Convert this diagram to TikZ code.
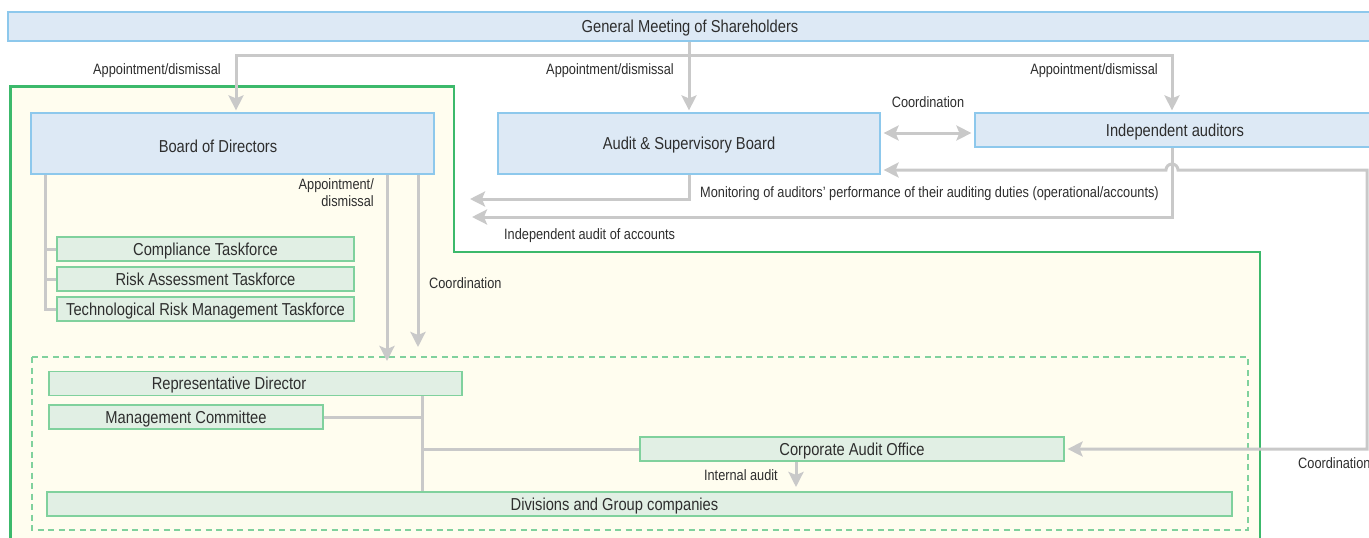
\documentclass[tikz,border=0pt]{standalone}
\usepackage{fontspec}
\setmainfont{Liberation Sans}[FakeStretch=0.85]
\usetikzlibrary{arrows.meta}
\usepackage{xcolor}

\definecolor{fillblue}{HTML}{DDE9F5}
\definecolor{lineblue}{HTML}{8DC8EC}
\definecolor{fillgreen}{HTML}{E1EFE4}
\definecolor{linegreen}{HTML}{80D19D}
\definecolor{framegreen}{HTML}{3CB96B}
\definecolor{bgyellow}{HTML}{FFFDEF}
\definecolor{conngray}{HTML}{C9C9C9}
\definecolor{txtgray}{HTML}{2E2E2E}

\newcommand{\bigtxt}{\fontsize{17.3}{20}\selectfont}
\newcommand{\smalltxt}{\fontsize{15}{17}\selectfont}

\tikzset{
    bluebox/.style={draw=lineblue, fill=fillblue, line width=1.2pt, inner sep=0pt, font=\bigtxt, text=txtgray, text height=12.4pt, text depth=0pt},
    greenbox/.style={draw=linegreen, fill=fillgreen, line width=1.2pt, inner sep=0pt, minimum height=24pt, font=\bigtxt, text=txtgray, text height=12.4pt, text depth=0pt},
    txt/.style={inner sep=0pt, font=\bigtxt, text=txtgray, text height=12.4pt, text depth=0pt},
    lbl/.style={inner sep=0pt, font=\smalltxt, text=txtgray, text height=10.7pt, text depth=0pt},
    conn/.style={draw=conngray, line width=3pt},
    arr/.style={conn, -{Stealth[length=15pt,width=15pt,inset=3pt]}, shorten >=2pt},
    dblarr/.style={conn, {Stealth[length=15pt,width=15pt,inset=3pt]}-{Stealth[length=15pt,width=15pt,inset=3pt]}, shorten >=3pt, shorten <=3pt},
}

\begin{document}
\begin{tikzpicture}[x=1pt,y=-1pt]
    \useasboundingbox (0,0) rectangle (1369,538);

    % company frame and execution area
    \draw[line width=2.6pt, draw=framegreen, fill=bgyellow] (10.5,560) -- (10.5,86.5) -- (454,86.5) -- (454,252) -- (1260,252) -- (1260,560) -- cycle;
    \draw[line width=2.4pt, draw=linegreen, dash pattern=on 6pt off 4.5pt] (32,357) rectangle (1248,530);

    % top level boxes
    \node[bluebox, minimum width=1364pt, minimum height=29pt] (gms) at (690,26.5) {General Meeting of Shareholders};
    \node[bluebox, minimum width=403pt, minimum height=61pt] (bod) at (232.5,143.5) {};
    \node[txt] (bod-t) at (218,146) {Board of Directors};
    \node[bluebox, minimum width=382pt, minimum height=61pt] (asb) at (689,143.5) {Audit \& Supervisory Board};
    \node[bluebox, minimum width=400pt, minimum height=34pt] (ia) at (1175,130) {Independent auditors};

    % taskforces under the board
    \foreach \y/\nm/\t in {249/cmp/Compliance Taskforce, 279/rat/Risk Assessment Taskforce, 309/trm/Technological Risk Management Taskforce}{
        \node[greenbox, minimum width=297pt] (\nm) at (205.5,\y) {\t};
        \draw[conn] (45,\y) -- (\nm.west);
    }
    \draw[conn] (bod.south -| 45,0) -- (45,310.5);

    % execution side
    \node[greenbox, minimum width=413pt] (rd) at (255.5,383.5) {};
    \node[txt] (rd-t) at (229,383.5) {Representative Director};
    \node[greenbox, minimum width=274pt] (mc) at (186,417) {Management Committee};
    \node[greenbox, minimum width=424pt] (cao) at (852,449) {Corporate Audit Office};
    \node[greenbox, minimum width=1185pt] (div) at (639.5,504) {};
    \node[txt] (div-t) at (614.5,504) {Divisions and Group companies};

    % coordinates for connector ends
    \coordinate (tl) at (236,55);
    \coordinate (tr) at (1172,55);
    \coordinate (co) at (928,133);
    \coordinate (mon) at (468,199);
    \coordinate (iaa) at (470,217);
    \coordinate (cr) at (1367,170);
    \coordinate (ad) at (387,363);
    \coordinate (cd) at (418,349);
    \coordinate (sp) at (422,449);
    \coordinate (ina) at (796,489);

    % appointment/dismissal from the shareholders
    \draw[arr] (gms.south -| asb.north) |- (tl) -- (tl |- bod.north);
    \draw[arr] (gms.south -| asb.north) |- (tr) -- (tr |- ia.north);
    \draw[arr] (gms.south -| asb.north) -- (asb.north);

    % audit lines
    \draw[dblarr] (co -| asb.east) -- (co -| ia.west);
    \draw[arr] (asb.south) |- (mon);
    \draw[arr] (tr |- ia.south) |- (iaa);
    \draw[dblarr] (cr -| asb.east) -- ([xshift=-6pt]tr |- cr) arc[start angle=180, end angle=360, radius=6] -- (cr) |- (cao.east);

    % board to execution
    \draw[arr] (bod.south -| ad) -- (ad);
    \draw[arr] (bod.south -| cd) -- (cd);

    % execution tree
    \draw[conn] (rd.south -| sp) -- (div.north -| sp);
    \draw[conn] (mc.east) -- (mc.east -| sp);
    \draw[conn] (sp) -- (cao.west);
    \draw[arr] (cao.south -| ina) -- (ina);

    % labels
    \node[lbl, anchor=east] (l-ad1) at (221,69) {Appointment/dismissal};
    \node[lbl, anchor=east] (l-ad2) at (674,69) {Appointment/dismissal};
    \node[lbl, anchor=east] (l-ad3) at (1158,69) {Appointment/dismissal};
    \node[lbl] (l-co1) at (928,102) {Coordination};
    \node[lbl, anchor=west] (l-mon) at (700,192) {Monitoring of auditors’ performance of their auditing duties (operational/accounts)};
    \node[lbl, anchor=west] (l-iaa) at (504,234) {Independent audit of accounts};
    \node[lbl, anchor=east, align=right] (l-ad4) at (374,201) {Appointment/\\dismissal};
    \node[lbl, anchor=west] (l-co2) at (429,283) {Coordination};
    \node[lbl, anchor=east] (l-ina) at (778,475) {Internal audit};
    \node[lbl, anchor=west] (l-co3) at (1298,463) {Coordination};
\end{tikzpicture}
\end{document}
